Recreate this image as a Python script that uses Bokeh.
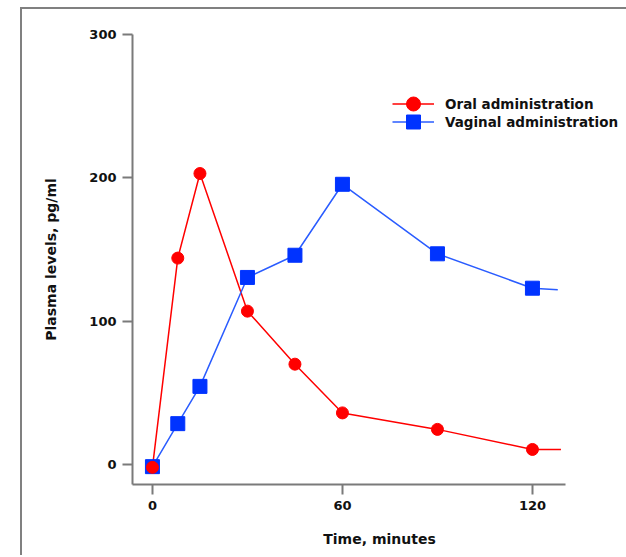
from bokeh.plotting import figure
from bokeh.models import Range1d, FixedTicker, Legend, LegendItem
from bokeh.layouts import column
from bokeh.embed import file_html
from bokeh.resources import INLINE

# Data
time_oral = [0, 8, 15, 30, 45, 60, 90, 120, 129]
oral = [-2, 144, 203, 107, 70, 36, 24.5, 10.5, 10.5]
time_vag = [0, 8, 15, 30, 45, 60, 90, 120, 128]
vaginal = [-1.5, 28.5, 54.5, 130.5, 146, 195.5, 147, 123, 122]
n_marked = 8  # last value is the line continuation without marker
x_ticks = [0, 60, 120]
y_ticks = [0, 100, 200, 300]
series_names = ["Oral administration", "Vaginal administration"]

FONT = "DejaVu Sans"
RED = "#FF0000"
BLUE_M = "#0033FF"
BLUE_L = "#2A5CFF"
AXIS = "#7A7A7A"
TXT = "#111111"

X_AXIS_START, X_AXIS_END = -6.3, 130.4

p = figure(width=604, height=546, output_backend="svg", toolbar_location=None,
           x_range=Range1d(X_AXIS_START, 149.7), y_range=Range1d(-13.95, 300),
           min_border_left=110, min_border_right=0, min_border_top=25, min_border_bottom=71)
p.outline_line_color = None
p.xgrid.visible = False
p.ygrid.visible = False
p.background_fill_color = "white"
p.border_fill_color = "white"

r_ol = p.line(time_oral, oral, line_color=RED, line_width=1.5)
r_vl = p.line(time_vag, vaginal, line_color=BLUE_L, line_width=1.5)
r_vm = p.scatter(time_vag[:n_marked], vaginal[:n_marked], marker="square", size=14,
                 fill_color=BLUE_M, line_color=BLUE_M)
r_om = p.scatter(time_oral[:n_marked], oral[:n_marked], marker="circle", size=12,
                 fill_color=RED, line_color=RED)

for ax in (p.xaxis[0], p.yaxis[0]):
    ax.axis_line_color = AXIS
    ax.axis_line_width = 2
    ax.major_tick_line_color = AXIS
    ax.major_tick_line_width = 2
    ax.major_tick_out = 10
    ax.major_tick_in = 0
    ax.minor_tick_line_color = None
    ax.major_label_text_font = FONT
    ax.major_label_text_font_style = "bold"
    ax.major_label_text_font_size = "13px"
    ax.major_label_text_color = TXT
    ax.axis_label_text_font = FONT
    ax.axis_label_text_font_style = "bold"
    ax.axis_label_text_font_size = "14px"
    ax.axis_label_text_color = TXT

p.xaxis[0].bounds = (X_AXIS_START, X_AXIS_END)
p.xaxis[0].ticker = FixedTicker(ticks=x_ticks)
p.yaxis[0].ticker = FixedTicker(ticks=y_ticks)
p.xaxis[0].axis_label = "Time, minutes"
p.yaxis[0].axis_label = "Plasma levels, pg/ml"
p.xaxis[0].major_label_standoff = 6
p.yaxis[0].major_label_standoff = 6
p.xaxis[0].axis_label_standoff = 18
p.yaxis[0].axis_label_standoff = 27

# one legend per series so the markers can be large while the rows stay close
for name, rends, loc in [(series_names[0], [r_ol, r_om], (260, 363)),
                         (series_names[1], [r_vl, r_vm], (260, 345))]:
    lg = Legend(items=[LegendItem(label=name, renderers=rends)], location=loc)
    lg.border_line_color = None
    lg.background_fill_alpha = 0
    lg.padding = 0
    lg.margin = 0
    lg.glyph_width = 42
    lg.glyph_height = 35
    lg.label_height = 18
    lg.label_standoff = 11
    lg.label_text_font = FONT
    lg.label_text_font_style = "bold"
    lg.label_text_font_size = "13.5px"
    lg.label_text_color = TXT
    p.add_layout(lg)

layout = column(p, styles={"border-top": "2px solid #808080", "border-left": "2px solid #808080",
                           "margin-left": "20px", "margin-top": "7px"})

open("out.html", "w").write(file_html(layout, INLINE))
